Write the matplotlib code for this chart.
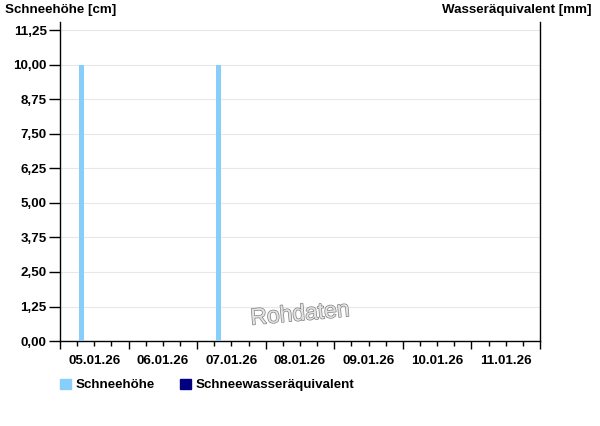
import numpy as np
import matplotlib.pyplot as plt
import matplotlib.dates as mdates
import matplotlib.patheffects as pe
from matplotlib.patches import Patch
from matplotlib.ticker import FuncFormatter, FixedLocator
from datetime import datetime, timedelta

plt.rcParams['font.family'] = ['Liberation Sans', 'DejaVu Sans']

# Data
snow_times = [datetime(2026, 1, 5, 7, 30), datetime(2026, 1, 7, 7, 30)]
snow_depth = [10.0, 10.0]          # cm
swe_times = []                     # no values
swe_values = []
days = [datetime(2026, 1, 5) + timedelta(days=i) for i in range(8)]
yticks = [0, 1.25, 2.5, 3.75, 5.0, 6.25, 7.5, 8.75, 10.0, 11.25]

snow_color = '#87cefa'
swe_color = '#000080'
fs = 9.6

fig = plt.figure(figsize=(6, 4.26), dpi=100)
ax = fig.add_axes([0.1, 0.1995, 0.8, 0.7485])

ax.bar(snow_times, snow_depth, width=1.6 / 24, color=snow_color, zorder=3)

ax.set_xlim(days[0], days[-1])
ax.set_ylim(0, 11.55)

ax.yaxis.set_major_locator(FixedLocator(yticks))
ax.yaxis.set_major_formatter(FuncFormatter(lambda v, p: f"{v:.2f}".replace('.', ',')))
ax.grid(axis='y', color='#e8e8e8', linewidth=0.8, zorder=0)

ax.xaxis.set_major_locator(mdates.DayLocator())
ax.xaxis.set_minor_locator(mdates.HourLocator(byhour=[6, 12, 18]))
ax.xaxis.set_major_formatter(plt.NullFormatter())
ax.tick_params(axis='x', which='major', length=6, width=1, color='black')
ax.tick_params(axis='x', which='minor', length=3.5, width=1, color='black')
ax.tick_params(axis='y', length=8, width=1, labelsize=fs, pad=1.5)
for lab in ax.get_yticklabels():
    lab.set_fontweight('bold')

for d in days[:-1]:
    ax.text(d + timedelta(hours=12), -0.045, d.strftime('%d.%m.%y'),
            transform=ax.get_xaxis_transform(), ha='center', va='top',
            fontsize=fs, fontweight='bold')

ax.spines['top'].set_visible(False)
for s in ['left', 'right', 'bottom']:
    ax.spines[s].set_linewidth(1)

fig.text(5 / 600, 1 - 10 / 426, 'Schneehöhe [cm]', ha='left', va='center',
         fontsize=fs, fontweight='bold')
fig.text(591 / 600, 1 - 10 / 426, 'Wasseräquivalent [mm]', ha='right', va='center',
         fontsize=fs, fontweight='bold')

ax.text(0.5, 0.085, 'Rohdaten', transform=ax.transAxes, ha='center', va='center',
        fontsize=16.5, color='#e4e4e4', rotation=5, zorder=4,
        path_effects=[pe.withStroke(linewidth=1.0, foreground='#808080')])

handles = [Patch(color=snow_color, label='Schneehöhe'),
           Patch(color=swe_color, label='Schneewasseräquivalent')]
fig.legend(handles=handles, loc='center left', bbox_to_anchor=(48 / 600, 1 - 385 / 426),
           ncol=2, frameon=False, handlelength=0.85, handleheight=0.85,
           handletextpad=0.35, columnspacing=1.85, prop={'weight': 'bold', 'size': fs})

fig.savefig('out.png', dpi=100)
